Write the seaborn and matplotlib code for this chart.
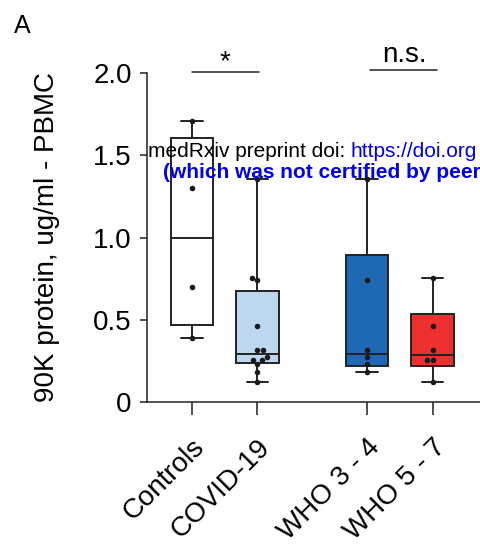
import numpy as np
import pandas as pd
import matplotlib
matplotlib.use("Agg")
import matplotlib.pyplot as plt
import seaborn as sns

# ---- data ----
categories = ["Controls", "COVID-19", "WHO 3 - 4", "WHO 5 - 7"]
controls = [0.39, 0.70, 1.30, 1.71]
who34 = [0.180, 0.231, 0.272, 0.314, 0.742, 1.354]
who57 = [0.122, 0.253, 0.253, 0.314, 0.464, 0.754]
covid = who34 + who57  # all COVID-19 patients (WHO 3-4 and WHO 5-7 pooled)
groups = [controls, covid, who34, who57]
box_colors = ["#FFFFFF", "#BDD7EE", "#1F69B4", "#EE2F2F"]
positions = [0.0, 1.0, 2.66, 3.66]
sig_labels = ["*", "n.s."]

sns.set_theme(style="ticks")
plt.rcParams["font.family"] = ["Liberation Sans", "DejaVu Sans"]
plt.rcParams["text.color"] = "black"
plt.rcParams["axes.labelcolor"] = "black"
plt.rcParams["xtick.color"] = "black"
plt.rcParams["ytick.color"] = "black"

fig = plt.figure(figsize=(4.81, 5.55), dpi=100)
W, H = 481, 555
ax = fig.add_axes([147 / W, 153 / H, (W - 147) / W, (402 - 73) / H])

# box statistics (GraphPad-style quartiles)
stats = []
for g in groups:
    a = np.asarray(g)
    q1, med, q3 = np.percentile(a, [25, 50, 75], method="weibull")
    stats.append(dict(med=med, q1=q1, q3=q3, whislo=a.min(), whishi=a.max(), fliers=[]))

lw = 1.4
edge = "#222222"
bp = ax.bxp(stats, positions=positions, widths=0.64, capwidths=0.33,
            patch_artist=True, showfliers=False,
            boxprops=dict(linewidth=lw, edgecolor=edge),
            medianprops=dict(linewidth=lw, color=edge),
            whiskerprops=dict(linewidth=lw, color=edge),
            capprops=dict(linewidth=lw, color=edge),
            manage_ticks=False)
for patch, c in zip(bp["boxes"], box_colors):
    patch.set_facecolor(c)

df = pd.DataFrame({
    "pos": np.concatenate([[p] * len(g) for p, g in zip(positions, groups)]),
    "value": np.concatenate(groups),
})
sns.swarmplot(data=df, x="pos", y="value", native_scale=True, color="#1a1a1a",
              size=4.0, ax=ax, zorder=5)

ax.set_xlim(-0.679, 4.397)
ax.set_ylim(0, 2.0)
ax.set_yticks([0, 0.5, 1.0, 1.5, 2.0])
ax.set_yticklabels(["0", "0.5", "1.0", "1.5", "2.0"])
ax.set_xticks(positions)
ax.set_xticklabels(categories, rotation=45, ha="right", va="top",
                   rotation_mode="anchor")
ax.set_xlabel("")
ax.set_ylabel("90K protein, ug/ml - PBMC", fontsize=20, labelpad=24)
ax.tick_params(axis="y", labelsize=20, length=5, width=1.1, pad=6, color=edge)
ax.tick_params(axis="x", labelsize=20, length=9, width=1.1, pad=14, color=edge)
for s in ["top", "right"]:
    ax.spines[s].set_visible(False)
for s in ["left", "bottom"]:
    ax.spines[s].set_linewidth(1.1)
    ax.spines[s].set_color(edge)

# significance annotations
ax.plot([0.0, 1.03], [2.008, 2.008], color=edge, lw=1.1, clip_on=False)
ax.text(0.5, 1.985, sig_labels[0], ha="center", va="bottom", fontsize=20)
ax.plot([2.71, 3.73], [2.018, 2.018], color=edge, lw=1.1, clip_on=False)
ax.text(3.24, 2.03, sig_labels[1], ha="center", va="bottom", fontsize=20)

fig.text(14 / W, 1 - 33 / H, "A", fontsize=18, va="baseline")

# medRxiv watermark header (visible part)
t1 = fig.text(148 / W, 1 - 157 / H, "medRxiv preprint doi: ", fontsize=15,
              va="baseline", color="black")
fig.canvas.draw()
r = fig.canvas.get_renderer()
bb = t1.get_window_extent(r)
fig.text(bb.x1 / W, 1 - 157 / H, "https://doi.org",
         fontsize=15, va="baseline", color="#0000EE")
fig.text(163 / W, 1 - 178 / H, "(which was not certified by peer",
         fontsize=15, va="baseline", color="#0000EE", fontweight="bold")

fig.savefig("out.png", dpi=100)
